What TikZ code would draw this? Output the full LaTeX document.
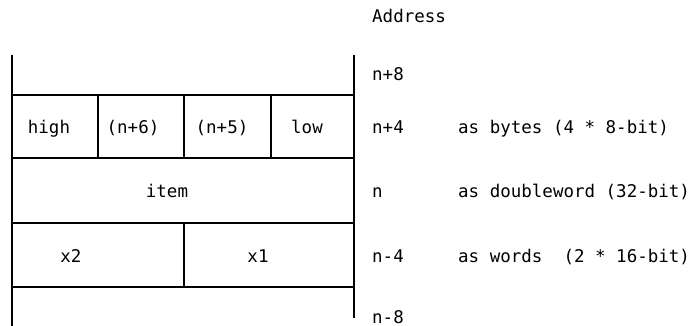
\documentclass[tikz,border=0pt]{standalone}
\usepackage{fontspec}
\setmonofont{DejaVu Sans Mono}
\begin{document}
\begin{tikzpicture}[x=1pt,y=-1pt,
  rule/.style={line width=2pt},
  txt/.style={font=\ttfamily\fontsize{17.5}{20}\selectfont, inner sep=0pt},
  lbl/.style={txt, anchor=base west},
  cell/.style={txt, anchor=base}]
\useasboundingbox (0,0) rectangle (691,326);
% frame lines
\coordinate (lt) at (12,55);
\coordinate (lb) at (12,326);
\coordinate (rt) at (354,55);
\coordinate (rb) at (354,318);
\draw[rule] (lt) -- (lb);
\draw[rule] (rt) -- (rb);
\coordinate (h1l) at (12,95);   \coordinate (h1r) at (354,95);
\coordinate (h2l) at (12,158);  \coordinate (h2r) at (354,158);
\coordinate (h3l) at (12,223);  \coordinate (h3r) at (354,223);
\coordinate (h4l) at (12,287);  \coordinate (h4r) at (354,287);
\draw[rule] (h1l) -- (h1r);
\draw[rule] (h2l) -- (h2r);
\draw[rule] (h3l) -- (h3r);
\draw[rule] (h4l) -- (h4r);
% byte dividers
\draw[rule] (98,95) -- (98,158);
\draw[rule] (184,95) -- (184,158);
\draw[rule] (271,95) -- (271,158);
% word divider
\draw[rule] (184,223) -- (184,287);
% cell labels
\node[cell] (high) at (49,134) {high};
\node[cell] (n6) at (133,134) {(n+6)};
\node[cell] (n5) at (222,134) {(n+5)};
\node[cell] (low) at (307,134) {low};
\node[cell] (item) at (167,197) {item};
\node[cell] (x2) at (71,262) {x2};
\node[cell] (x1) at (258,262) {x1};
% address labels
\node[lbl] (addr) at (372,23) {Address};
\node[lbl] (a8) at (372,81) {n+8};
\node[lbl] (a4) at (372,134) {n+4};
\node[lbl] (a0) at (372,197) {n};
\node[lbl] (am4) at (372,262) {n-4};
\node[lbl] (am8) at (372,323) {n-8};
% descriptions
\node[lbl] (d1) at (458,134) {as bytes (4 * 8-bit)};
\node[lbl] (d2) at (458,197) {as doubleword (32-bit)};
\node[lbl] (d3) at (458,262) {as words\ \ (2 * 16-bit)};
\end{tikzpicture}
\end{document}
